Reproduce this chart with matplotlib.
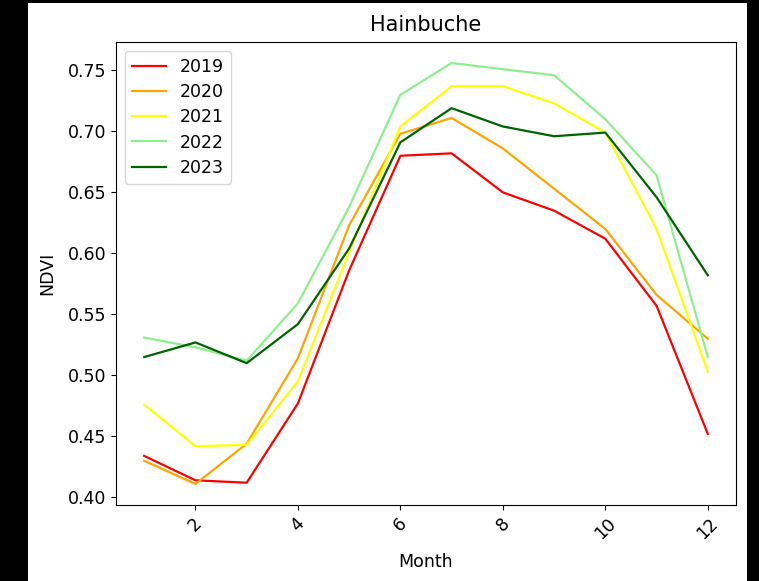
import matplotlib
matplotlib.use("Agg")
import matplotlib.pyplot as plt
from matplotlib.patches import Rectangle

months = [1, 2, 3, 4, 5, 6, 7, 8, 9, 10, 11, 12]
years = ["2019", "2020", "2021", "2022", "2023"]
colors = ["red", "orange", "yellow", "lightgreen", "darkgreen"]

ndvi_2019 = [0.434, 0.414, 0.412, 0.477, 0.586, 0.680, 0.682, 0.650, 0.635, 0.612, 0.557, 0.452]
ndvi_2020 = [0.430, 0.411, 0.444, 0.514, 0.623, 0.698, 0.711, 0.686, 0.653, 0.620, 0.566, 0.530]
ndvi_2021 = [0.476, 0.442, 0.443, 0.495, 0.601, 0.704, 0.737, 0.737, 0.723, 0.699, 0.620, 0.503]
ndvi_2022 = [0.531, 0.523, 0.512, 0.559, 0.638, 0.730, 0.756, 0.751, 0.746, 0.710, 0.664, 0.515]
ndvi_2023 = [0.515, 0.527, 0.510, 0.542, 0.604, 0.691, 0.719, 0.704, 0.696, 0.699, 0.646, 0.582]
series = [ndvi_2019, ndvi_2020, ndvi_2021, ndvi_2022, ndvi_2023]

plt.rcParams['font.family'] = ['DejaVu Sans']
plt.rcParams['font.size'] = 12.5

fig = plt.figure(figsize=(7.59, 5.81), dpi=100, facecolor="black")
bg = Rectangle((28 / 759, 0), (747 - 28) / 759, (581 - 3) / 581,
               transform=fig.transFigure, facecolor="white",
               edgecolor="none", zorder=-10)
fig.add_artist(bg)
ax = fig.add_axes([116 / 759, 1 - 505 / 581, (736 - 116) / 759, (505 - 42) / 581])
ax.set_zorder(1)

for y, vals, c in zip(years, series, colors):
    ax.plot(months, vals, color=c, label=y, linewidth=1.6)

ax.set_title("Hainbuche", fontsize=15, pad=8)
ax.set_xlabel("Month", labelpad=7)
ax.set_ylabel("NDVI", labelpad=8)
ax.tick_params(axis="x", labelrotation=45)
ax.legend(loc="upper left", labelspacing=0.42)

fig.savefig("out.png", dpi=100, facecolor=fig.get_facecolor())
